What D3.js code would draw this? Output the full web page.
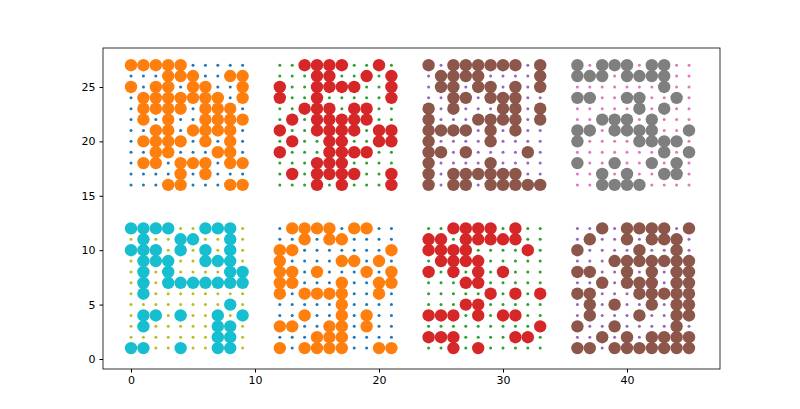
<!DOCTYPE html>
<html><head><meta charset="utf-8">
<script src="https://cdn.jsdelivr.net/npm/d3@7"></script>
<style>body{margin:0;background:#fff}</style>
</head><body>
<svg width="800" height="409"></svg>
<script>
// each block: 12 rows top->bottom, 10 columns; 1 = big marker, 0 = small marker
var xStarts = [0, 12, 24, 36];
var topRows = [
  ["1111100000","0001110011","1011011001","0111111101","0111101110","0101001111","0011011110","0111101010","0011000110","0110111011","0000101000","0001100011"],
  ["0011110010","0001100101","1001111001","1001000001","0011101100","0101111100","1001111011","0100110011","1000111100","0001110000","0101111001","0001010001"],
  ["1011111101","0111100001","0110110101","0011011100","1010001101","1000111101","1111010100","1000010000","1101000010","1000010000","1011111100","1011011111"],
  ["1011101100","1110111100","0000000100","1100110010","0000010100","0011101000","1101111001","1000011110","0000000101","1001001010","0010100110","0011110000"]
];
var bottomRows = [
  ["1111001110","0100110010","1110101010","0111001110","0101000011","0101111111","0100000000","0000000010","0110100101","0100000110","0000000110","1100100110"],
  ["0111101100","0010110000","1100000001","1000011010","1101000101","1100010011","1011110010","0000010000","0010010100","1100110100","0001110000","1011110011"],
  ["0011110100","1101111100","1111000010","0111100000","1010101000","0001100000","0000010101","0001100000","1110101100","0000000001","1110000110","0010100000"],
  ["0010111101","0100101110","1000010010","0001111111","1100101011","0010111011","1100011111","0101001011","0100010011","1001000010","0010101111","1101111111"]
];
var smallColors = ["#1f77b4", "#2ca02c", "#9467bd", "#e377c2", "#bcbd22", "#1f77b4", "#2ca02c", "#9467bd"];
var bigColors = ["#ff7f0e", "#d62728", "#8c564b", "#7f7f7f", "#17becf", "#ff7f0e", "#d62728", "#8c564b"];
var xTicks = [0, 10, 20, 30, 40];
var yTicks = [0, 5, 10, 15, 20, 25];

var pts = [];
function addBlock(rows, x0, yTop, b) {
  rows.forEach(function(r, i) {
    r.split("").forEach(function(c, j) {
      pts.push({x: x0 + j, y: yTop - i, big: c === "1", b: b});
    });
  });
}
xStarts.forEach(function(x0, k) {
  addBlock(topRows[k], x0, 27, k);
  addBlock(bottomRows[k], x0, 12, k + 4);
});

var svg = d3.select("svg"),
    margin = {top: 48, right: 80, bottom: 40, left: 103},
    width = 800 - margin.left - margin.right,
    height = 409 - margin.top - margin.bottom,
    g = svg.append("g").attr("transform", "translate(" + margin.left + "," + margin.top + ")");

var x = d3.scaleLinear().domain([-2.26, 47.5]).range([0, width]);
var y = d3.scaleLinear().domain([-0.92, 28.58]).range([height, 0]);

g.selectAll(".s").data(pts.filter(function(d) { return !d.big; }))
  .enter().append("circle")
  .attr("cx", function(d) { return x(d.x); })
  .attr("cy", function(d) { return y(d.y); })
  .attr("r", 1.5)
  .attr("fill", function(d) { return smallColors[d.b]; });

g.selectAll(".b").data(pts.filter(function(d) { return d.big; }))
  .enter().append("circle")
  .attr("cx", function(d) { return x(d.x); })
  .attr("cy", function(d) { return y(d.y); })
  .attr("r", 6.2)
  .attr("fill", function(d) { return bigColors[d.b]; });

var xa = g.append("g").attr("transform", "translate(0," + height + ")")
  .call(d3.axisBottom(x).tickValues(xTicks).tickSize(3.5).tickPadding(4));
var ya = g.append("g").call(d3.axisLeft(y).tickValues(yTicks).tickSize(3.5).tickPadding(4));
[xa, ya].forEach(function(a) {
  a.select(".domain").remove();
  a.selectAll("text").attr("font-family", "DejaVu Sans").attr("font-size", 11).attr("fill", "#000");
  a.selectAll("line").attr("stroke", "#000");
});
g.append("rect").attr("width", width).attr("height", height)
  .attr("fill", "none").attr("stroke", "#000").attr("stroke-width", 0.8);
</script>
</body></html>
